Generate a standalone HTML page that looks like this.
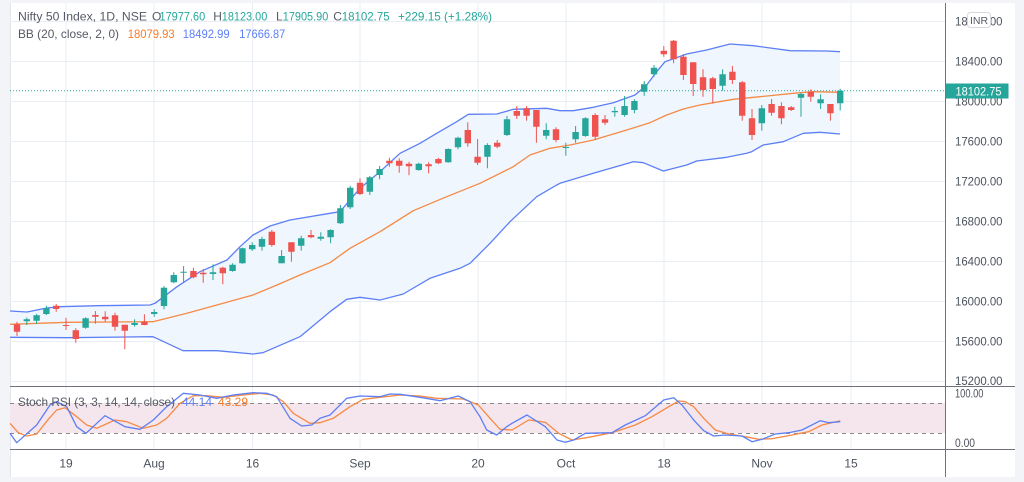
<!DOCTYPE html>
<html>
<head>
<meta charset="utf-8">
<style>
html,body{margin:0;padding:0;background:#f2f4f7;}
svg{display:block;font-family:"Liberation Sans",Arial,sans-serif;}
</style>
</head>
<body>
<svg width="1024" height="482" viewBox="0 0 1024 482" xmlns="http://www.w3.org/2000/svg">
<rect x="0" y="0" width="1024" height="482" fill="#f2f4f7"/>
<rect x="10" y="3" width="1005" height="474" fill="#ffffff"/>
<line x1="10.5" y1="3" x2="10.5" y2="477" stroke="#e3e6ea" stroke-width="1"/>

<!-- grid -->
<g stroke="#e8eef4" stroke-width="1">
<line x1="10" y1="21.5" x2="945" y2="21.5"/>
<line x1="10" y1="61.5" x2="945" y2="61.5"/>
<line x1="10" y1="101.5" x2="945" y2="101.5"/>
<line x1="10" y1="141.5" x2="945" y2="141.5"/>
<line x1="10" y1="181.5" x2="945" y2="181.5"/>
<line x1="10" y1="221.5" x2="945" y2="221.5"/>
<line x1="10" y1="261.5" x2="945" y2="261.5"/>
<line x1="10" y1="301.5" x2="945" y2="301.5"/>
<line x1="10" y1="341.5" x2="945" y2="341.5"/>
<line x1="10" y1="381.5" x2="945" y2="381.5"/>
<line x1="66" y1="3" x2="66" y2="449"/>
<line x1="154" y1="3" x2="154" y2="449"/>
<line x1="252.5" y1="3" x2="252.5" y2="449"/>
<line x1="360" y1="3" x2="360" y2="449"/>
<line x1="478" y1="3" x2="478" y2="449"/>
<line x1="566" y1="3" x2="566" y2="449"/>
<line x1="664" y1="3" x2="664" y2="449"/>
<line x1="762" y1="3" x2="762" y2="449"/>
<line x1="851" y1="3" x2="851" y2="449"/>
</g>

<!-- Bollinger band fill -->
<polygon fill="#eff6fd" points="10,311 27,312 47,308 60,306.7 97,305.7 150,305 155,303.3 177,286.7 200,271.7 227,260 240,246.7 253,235 270,226 290,220 330,213.3 340,211.7 360,188.3 380,171.7 400,153.3 420,143.3 436.7,133.3 456.7,121.7 468.3,114.3 496.7,114 513.3,109.3 546.7,108.3 560,110.7 573.3,110.7 593.3,107.3 613.3,102.7 635,95 646.7,85 656.7,71.7 665,61.7 686.7,54 706.7,50 730,44 753.3,45.7 790,50.7 826.7,51 840,51.7 840,134 820,132.3 803.3,133.3 783.3,141.7 763.3,145 751.7,151.7 746.7,153.3 726.7,157.3 696.7,161 686.7,165 663.3,171 643.3,162.7 633.3,161.7 593.3,173.3 560,183.3 556.7,185 536.7,196.7 510,221.7 490,243.3 470,263.3 460,268.3 430,278.3 403.3,294 380,300 360,297.3 346.7,299.3 330,311.7 300,336.7 263,352.7 253,354 217,350.7 183,350.7 153,336.7 67,337.7 10,337.3"/>

<!-- BB lines -->
<polyline fill="none" stroke="#5d7ff5" stroke-width="1.3" stroke-linejoin="round" points="10,311 27,312 47,308 60,306.7 97,305.7 150,305 155,303.3 177,286.7 200,271.7 227,260 240,246.7 253,235 270,226 290,220 330,213.3 340,211.7 360,188.3 380,171.7 400,153.3 420,143.3 436.7,133.3 456.7,121.7 468.3,114.3 496.7,114 513.3,109.3 546.7,108.3 560,110.7 573.3,110.7 593.3,107.3 613.3,102.7 635,95 646.7,85 656.7,71.7 665,61.7 686.7,54 706.7,50 730,44 753.3,45.7 790,50.7 826.7,51 840,51.7"/>
<polyline fill="none" stroke="#5d7ff5" stroke-width="1.3" stroke-linejoin="round" points="10,337.3 67,337.7 153,336.7 183,350.7 217,350.7 253,354 263,352.7 300,336.7 330,311.7 346.7,299.3 360,297.3 380,300 403.3,294 430,278.3 460,268.3 470,263.3 490,243.3 510,221.7 536.7,196.7 556.7,185 560,183.3 593.3,173.3 633.3,161.7 643.3,162.7 663.3,171 686.7,165 696.7,161 726.7,157.3 746.7,153.3 751.7,151.7 763.3,145 783.3,141.7 803.3,133.3 820,132.3 840,134"/>
<polyline fill="none" stroke="#f68a45" stroke-width="1.3" stroke-linejoin="round" points="10,324.3 67,322.3 153,321.7 187,313.3 253,295 277,285 300,275 330,262.7 350,248.3 380,231.7 413.3,210.7 446.7,196.7 480,183.3 513.3,166.7 530,155 550,148.3 570,145 593.3,140 626.7,130 650,122.7 666.7,115 683.3,109 700,105 713.3,102.7 733.3,99.3 760,96.7 793.3,93.3 813.3,91.7 840,92.3"/>

<!-- price line -->
<line x1="10" y1="90.7" x2="945" y2="90.7" stroke="#26a69a" stroke-width="1" stroke-dasharray="1,2"/>

<!-- green candles -->
<path fill="none" stroke="#26a69a" stroke-width="1" d="M26.8 317.5V325M36.6 314V324M46.4 305.7V315M85.6 317.3V328.7M134.6 319.3V326.7M154.2 309.3V316.7M164 286V309.3M173.8 272.3V283.3M183.6 266V282.3M213 264.3V280M232.6 263.3V271.7M242.4 247.7V263.7M252.2 242.3V251M262 236.7V250.7M281.6 250V263.3M301.2 235.7V250.7M320.8 232.3V240.7M330.6 229.3V243.3M340.4 205V224M350.2 185.7V209M369.8 176V195M379.6 166V179.3M418.8 162.7V170.7M448.2 148.3V162.7M458 136.7V149.3M487.4 143.3V168.3M507 116V136M546.2 123.3V139.3M565.8 142.7V155.7M575.6 126V142.7M585.4 117.3V136.7M614.8 106.7V116.7M624.6 96V116.7M634.4 99.3V113.3M644.2 81V95.7M654 65V76.7M722.6 69.3V90.7M761.8 105V130.7M801 92.7V116.7M820.6 94.3V109M840.2 88.7V110.4"/>
<path fill="#26a69a" d="M23.6 319.3h6.4V321.3h-6.4ZM33.4 315.3h6.4V320.7h-6.4ZM43.2 308.3h6.4V314h-6.4ZM82.4 318.3h6.4V327.7h-6.4ZM131.4 323h6.4V325h-6.4ZM151 312h6.4V314h-6.4ZM160.8 287.7h6.4V306h-6.4ZM170.6 275h6.4V282.3h-6.4ZM180.4 271.7h6.4V272.7h-6.4ZM209.8 272.3h6.4V274h-6.4ZM229.4 264.7h6.4V271h-6.4ZM239.2 248.3h6.4V263.3h-6.4ZM249 245h6.4V249.3h-6.4ZM258.8 239h6.4V246.7h-6.4ZM278.4 256h6.4V263.3h-6.4ZM298 238.3h6.4V245.7h-6.4ZM317.6 236.7h6.4V238.7h-6.4ZM327.4 230h6.4V237.3h-6.4ZM337.2 208.3h6.4V223.3h-6.4ZM347 187.7h6.4V207.3h-6.4ZM366.6 177.3h6.4V191.7h-6.4ZM376.4 169h6.4V175h-6.4ZM415.6 163.7h6.4V170h-6.4ZM445 149h6.4V162.3h-6.4ZM454.8 137.7h6.4V147.3h-6.4ZM484.2 145h6.4V156.7h-6.4ZM503.8 119.3h6.4V135h-6.4ZM543 130h6.4V135.7h-6.4ZM562.6 147h6.4V148h-6.4ZM572.4 132h6.4V139.3h-6.4ZM582.2 118.3h6.4V136h-6.4ZM611.6 111h6.4V112.3h-6.4ZM621.4 106h6.4V115h-6.4ZM631.2 101h6.4V110h-6.4ZM641 84.3h6.4V91.7h-6.4ZM650.8 67.7h6.4V74.3h-6.4ZM719.4 74.3h6.4V85.7h-6.4ZM758.6 108.3h6.4V123.3h-6.4ZM797.8 94h6.4V97.7h-6.4ZM817.4 99.3h6.4V103.3h-6.4ZM837 90.7h6.4V103.2h-6.4Z"/>

<!-- red candles -->
<path fill="none" stroke="#ef5350" stroke-width="1" d="M17 321.7V336M56.2 304V311.7M66 317.7V330M75.8 328.3V342.7M95.4 311V323.7M105.2 311.3V321.7M115 312.7V330.7M124.8 324.7V349.3M144.4 314.3V325.3M193.4 267.7V278.3M203.2 269V282.7M222.8 266.7V284.3M271.8 230V246.7M291.4 242.3V261.7M311 230V238.3M360 178.3V195M389.4 157.7V166.7M399.2 158.3V172.7M409 161.7V175.3M428.6 162.3V173.3M438.4 157.7V164M467.8 122.3V146.7M477.6 139V165M497.2 140V148.3M516.8 106V119M526.6 106V120.7M536.4 110V142.7M556 127.3V142.3M595.2 113.3V140M605 115V125M663.8 46V56.7M673.6 40V63.3M683.4 54V80M693.2 62.3V96M703 69.3V96.7M712.8 76.7V103.3M732.4 66V84M742.2 81V120.7M752 109V140M771.6 99V115.7M781.4 102.3V124.3M791.2 106V111M810.8 89.3V101.7M830.4 104V120.7"/>
<path fill="#ef5350" d="M13.8 324.3h6.4V331.7h-6.4ZM53 305.7h6.4V309h-6.4ZM62.8 325h6.4V326h-6.4ZM72.6 330.3h6.4V339h-6.4ZM92.2 315h6.4V316.7h-6.4ZM102 316.7h6.4V319.3h-6.4ZM111.8 315.3h6.4V326.7h-6.4ZM121.6 324.7h6.4V330.7h-6.4ZM141.2 321.7h6.4V325h-6.4ZM190.2 271h6.4V277.3h-6.4ZM200 272.7h6.4V274.3h-6.4ZM219.6 267.7h6.4V273.3h-6.4ZM268.6 231.7h6.4V245h-6.4ZM288.2 242.3h6.4V251.7h-6.4ZM307.8 235h6.4V237.3h-6.4ZM356.8 182.7h6.4V194h-6.4ZM386.2 160.7h6.4V163.3h-6.4ZM396 160.7h6.4V165.7h-6.4ZM405.8 163.7h6.4V166.3h-6.4ZM425.4 164.3h6.4V166.3h-6.4ZM435.2 159h6.4V163.3h-6.4ZM464.6 130h6.4V143.3h-6.4ZM474.4 156.7h6.4V162.7h-6.4ZM494 142.7h6.4V146.7h-6.4ZM513.6 111h6.4V115.7h-6.4ZM523.4 108.3h6.4V115.7h-6.4ZM533.2 110h6.4V126.7h-6.4ZM552.8 129.3h6.4V140h-6.4ZM592 115h6.4V136.7h-6.4ZM601.8 119.3h6.4V122.7h-6.4ZM660.6 50.7h6.4V54.3h-6.4ZM670.4 40.7h6.4V59.3h-6.4ZM680.2 56.7h6.4V75h-6.4ZM690 62.3h6.4V84h-6.4ZM699.8 77.3h6.4V90h-6.4ZM709.6 78.3h6.4V89h-6.4ZM729.2 71.7h6.4V80h-6.4ZM739 82.3h6.4V115.7h-6.4ZM748.8 118.3h6.4V135h-6.4ZM768.4 104h6.4V112.7h-6.4ZM778.2 106h6.4V118.3h-6.4ZM788 107.3h6.4V110h-6.4ZM807.6 91.7h6.4V96.7h-6.4ZM827.2 104h6.4V113.3h-6.4Z"/>

<!-- Stoch RSI pane -->
<rect x="10" y="403" width="935" height="30" fill="#f4e6ec"/>
<line x1="10" y1="403.5" x2="945" y2="403.5" stroke="#8a8a8a" stroke-width="1" stroke-dasharray="4,4"/>
<line x1="10" y1="433.5" x2="945" y2="433.5" stroke="#8a8a8a" stroke-width="1" stroke-dasharray="4,4"/>
<polyline fill="none" stroke="#f68a45" stroke-width="1.3" stroke-linejoin="round" points="10,423.3 18.3,432.7 26.7,436 36.7,434 48.3,419.3 56.7,410 65,407.7 76.7,416.7 86.7,425 96.7,428.3 115,420 126.7,421.7 143.3,428.3 156.7,425 166.7,418.3 180,403.3 193.3,395.7 206.7,395.7 223.3,397.3 243.3,395 260,393.3 273.3,395 283.3,401.7 293.3,413.3 310,423.3 320,422.7 333.3,418.3 350,406.7 363.3,399.3 380,397.3 400,395 420,396 436.7,398.3 463.3,399 478.3,405 490,418.3 500,429.3 512,430 528.7,420 545.3,422.3 558.7,433.3 572,440 588.7,437.3 612,432.7 635.3,425 652,416.7 668.7,406.7 678.7,401 685.3,401.7 693.7,406.7 703.7,418.3 715.3,430 728.7,434 745.3,436.7 758.7,439.3 772,438.7 792,435 808.7,431.7 822,425 840.3,420.7"/>
<polyline fill="none" stroke="#5d7ff5" stroke-width="1.3" stroke-linejoin="round" points="10,433.3 16.7,442.7 36.7,425 50,405 56.7,401.7 66.7,406.7 76.7,426.7 86,433.3 105,415.7 125,426.7 140,429.3 153.3,420 166.7,406.7 183.3,393.3 200,395 216.7,398.3 233.3,395 253.3,392.7 266.7,393.3 276.7,396.7 290,418.3 301.7,426 311.7,425 320,418.3 330,415 346.7,398.3 360,396 380,396.7 390,394 400,394.3 420,397.3 440,400.7 458.3,396 470,401.7 480,416.7 486.7,430 496.7,435 506.7,426.7 512,423.3 527,415 545.3,426.7 557,440 565.3,442.3 573.7,440 585.3,433.3 612,432.7 625.3,425 645.3,415.7 663.7,400 673.7,397.7 682,405 693.7,420 703.7,430.7 713.7,436 725.3,435 742,436 752,441.7 762,439.3 775.3,434 788.7,432.7 802,430 820.3,420.7 828.7,422.7 840.3,421.7"/>

<!-- separators -->
<line x1="10" y1="386.5" x2="1015" y2="386.5" stroke="#6f727c" stroke-width="1"/>
<line x1="10" y1="449.5" x2="1015" y2="449.5" stroke="#6f727c" stroke-width="1"/>
<line x1="945.5" y1="3" x2="945.5" y2="477" stroke="#6f727c" stroke-width="1"/>

<!-- price axis labels -->
<g fill="#4c525e" font-size="11.5">
<text x="955" y="25.5" textLength="47.5" lengthAdjust="spacingAndGlyphs">18800.00</text>
<text x="955" y="65.5" textLength="47.5" lengthAdjust="spacingAndGlyphs">18400.00</text>
<text x="955" y="105.5" textLength="47.5" lengthAdjust="spacingAndGlyphs">18000.00</text>
<text x="955" y="145.5" textLength="47.5" lengthAdjust="spacingAndGlyphs">17600.00</text>
<text x="955" y="185.5" textLength="47.5" lengthAdjust="spacingAndGlyphs">17200.00</text>
<text x="955" y="225.5" textLength="47.5" lengthAdjust="spacingAndGlyphs">16800.00</text>
<text x="955" y="265.5" textLength="47.5" lengthAdjust="spacingAndGlyphs">16400.00</text>
<text x="955" y="305.5" textLength="47.5" lengthAdjust="spacingAndGlyphs">16000.00</text>
<text x="955" y="345.5" textLength="47.5" lengthAdjust="spacingAndGlyphs">15600.00</text>
<text x="955" y="385" textLength="47.5" lengthAdjust="spacingAndGlyphs">15200.00</text>
<text x="955" y="397.5" textLength="28.5" lengthAdjust="spacingAndGlyphs">100.00</text>
<text x="955" y="447" textLength="20" lengthAdjust="spacingAndGlyphs">0.00</text>
</g>

<!-- INR badge -->
<rect x="967.5" y="12.5" width="23" height="15" rx="3" fill="#ffffff" stroke="#d4d8df" stroke-width="1"/>
<text x="979" y="24" font-size="10.5" fill="#555a66" text-anchor="middle">INR</text>

<!-- price tag -->
<rect x="945.5" y="83.5" width="63" height="15" fill="#26a69a"/>
<text x="955.5" y="95.3" font-size="12" fill="#ffffff" textLength="46" lengthAdjust="spacingAndGlyphs">18102.75</text>

<!-- time axis labels -->
<g fill="#4c525e" font-size="12" text-anchor="middle">
<text x="66" y="467.5">19</text>
<text x="154" y="467.5">Aug</text>
<text x="252.5" y="467.5">16</text>
<text x="360" y="467.5">Sep</text>
<text x="478" y="467.5">20</text>
<text x="566" y="467.5">Oct</text>
<text x="664" y="467.5">18</text>
<text x="762" y="467.5">Nov</text>
<text x="851" y="467.5">15</text>
</g>

<!-- legend -->
<g font-size="12">
<text x="18" y="20.5" fill="#555a66" textLength="129" lengthAdjust="spacingAndGlyphs">Nifty 50 Index, 1D, NSE</text>
<text x="152" y="20.5" fill="#555a66">O</text>
<text x="159.5" y="20.5" fill="#26a69a" textLength="45.7" lengthAdjust="spacingAndGlyphs">17977.60</text>
<text x="213.3" y="20.5" fill="#555a66">H</text>
<text x="221.8" y="20.5" fill="#26a69a" textLength="45.5" lengthAdjust="spacingAndGlyphs">18123.00</text>
<text x="276" y="20.5" fill="#555a66">L</text>
<text x="282.8" y="20.5" fill="#26a69a" textLength="45.5" lengthAdjust="spacingAndGlyphs">17905.90</text>
<text x="333.3" y="20.5" fill="#555a66">C</text>
<text x="341.7" y="20.5" fill="#26a69a" textLength="48" lengthAdjust="spacingAndGlyphs">18102.75</text>
<text x="398" y="20.5" fill="#26a69a" textLength="94" lengthAdjust="spacingAndGlyphs">+229.15 (+1.28%)</text>
<text x="18" y="38" fill="#555a66" textLength="101" lengthAdjust="spacingAndGlyphs">BB (20, close, 2, 0)</text>
<text x="127.7" y="38" fill="#f57c2a" textLength="47" lengthAdjust="spacingAndGlyphs">18079.93</text>
<text x="182.7" y="38" fill="#5d7ff5" textLength="47" lengthAdjust="spacingAndGlyphs">18492.99</text>
<text x="239.3" y="38" fill="#5d7ff5" textLength="46" lengthAdjust="spacingAndGlyphs">17666.87</text>
<text x="18" y="406" fill="#555a66" textLength="157" lengthAdjust="spacingAndGlyphs">Stoch RSI (3, 3, 14, 14, close)</text>
<text x="182" y="406" fill="#5d7ff5" textLength="30" lengthAdjust="spacingAndGlyphs">44.14</text>
<text x="218" y="406" fill="#f57c2a" textLength="30" lengthAdjust="spacingAndGlyphs">43.29</text>
</g>
</svg>
</body>
</html>
